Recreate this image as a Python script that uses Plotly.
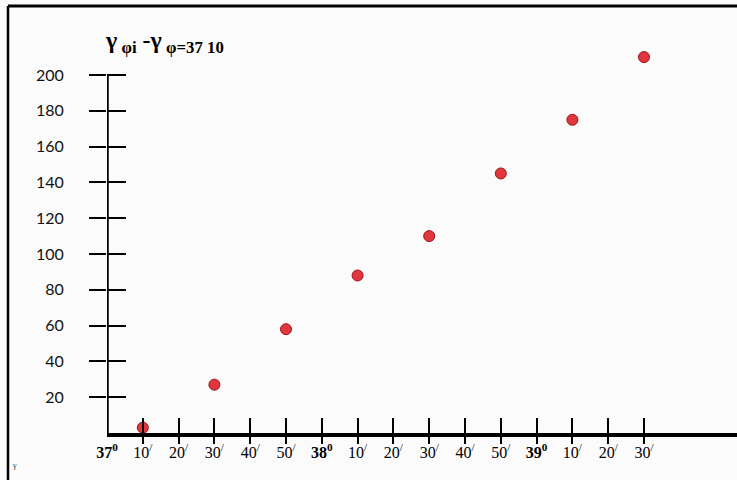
import plotly.graph_objects as go

# Data: x = minutes after 37°00', y = γφi − γφ=37°10'
x_minutes = [10, 30, 50, 70, 90, 110, 130, 150]
y_values = [3, 27, 58, 88, 110, 145, 175, 210]

x_tickvals = [0, 10, 20, 30, 40, 50, 60, 70, 80, 90, 100, 110, 120, 130, 140, 150]
x_ticktext = ["<b>37<sup>0</sup></b>", "10<sup>/</sup>", "20<sup>/</sup>", "30<sup>/</sup>",
              "40<sup>/</sup>", "50<sup>/</sup>", "<b>38<sup>0</sup></b>", "10<sup>/</sup>",
              "20<sup>/</sup>", "30<sup>/</sup>", "40<sup>/</sup>", "50<sup>/</sup>",
              "<b>39<sup>0</sup></b>", "10<sup>/</sup>", "20<sup>/</sup>", "30<sup>/</sup>"]
x_tickmarks = x_tickvals[1:]  # no tick mark at the origin
y_tickvals = [20, 40, 60, 80, 100, 120, 140, 160, 180, 200]
y_ticktext = [str(v) for v in y_tickvals]
y_axis_top = 200

W, H = 737, 480
ML, MR, MT, MB = 107, 0, 30, 47
PX_PER_MIN = 3.58
PX_PER_UNIT = 1.79
PW, PH = W - ML - MR, H - MT - MB
x_range = [0, PW / PX_PER_MIN]
y_range = [0, PH / PX_PER_UNIT]

fig = go.Figure()
fig.add_trace(go.Scatter(
    x=x_minutes, y=y_values, mode="markers",
    marker=dict(size=11, color="#e2363f", line=dict(color="#9c1018", width=1)),
    cliponaxis=False, showlegend=False, hoverinfo="x+y"))
# companion traces for overlay axes (tick marks)
for xa in ("x2", "x3"):
    fig.add_trace(go.Scatter(
        x=x_minutes, y=y_values, mode="markers", xaxis=xa, yaxis="y2",
        marker=dict(size=1, opacity=0), showlegend=False, hoverinfo="skip"))

serif = "Liberation Serif"
fig.update_layout(
    width=W, height=H,
    margin=dict(l=ML, r=MR, t=MT, b=MB, pad=0),
    paper_bgcolor="#fbfbfb", plot_bgcolor="rgba(0,0,0,0)",
    xaxis=dict(range=x_range, showgrid=False, zeroline=False,
               showline=True, linecolor="black", linewidth=4,
               ticks="", ticklabelstandoff=2,
               tickvals=x_tickvals, ticktext=x_ticktext,
               tickfont=dict(family=serif, size=16, color="black"),
               fixedrange=True),
    yaxis=dict(range=y_range, showgrid=False, zeroline=False,
               showline=False,
               ticks="outside", ticklen=17, tickwidth=2, tickcolor="black",
               tickvals=y_tickvals, ticktext=y_ticktext,
               ticklabelstandoff=22,
               tickfont=dict(family="Lato", size=16, color="#111"),
               fixedrange=True),
    xaxis2=dict(range=x_range, overlaying="x", anchor="y", side="bottom",
                showgrid=False, zeroline=False, showline=False,
                ticks="inside", ticklen=15, tickwidth=1.5, tickcolor="black",
                tickvals=x_tickmarks, showticklabels=False, fixedrange=True),
    xaxis3=dict(range=x_range, overlaying="x", anchor="y", side="bottom",
                showgrid=False, zeroline=False, showline=False,
                ticks="outside", ticklen=10, tickwidth=1.5, tickcolor="black",
                tickvals=x_tickmarks, showticklabels=False, fixedrange=True),
    yaxis2=dict(range=y_range, overlaying="y", anchor="x", side="left",
                showgrid=False, zeroline=False, showline=False,
                ticks="inside", ticklen=19, tickwidth=2, tickcolor="black",
                tickvals=y_tickvals, showticklabels=False, fixedrange=True),
    showlegend=False,
)

# vertical axis line from 0 up to the top tick
fig.add_shape(type="line", xref="x", yref="y", x0=0, x1=0, y0=0, y1=y_axis_top,
              line=dict(color="black", width=3.5), layer="above")

# scan frame (left and top borders)
fx = -(ML - 8) / PW
fy = 1 + (MT - 6) / PH
fig.add_shape(type="line", xref="paper", yref="paper",
              x0=fx, x1=fx, y0=-MB / PH, y1=fy,
              line=dict(color="black", width=2.5))
fig.add_shape(type="line", xref="paper", yref="paper",
              x0=fx, x1=1, y0=fy, y1=fy,
              line=dict(color="black", width=3))

# title on the y axis
fig.add_annotation(
    xref="paper", yref="paper",
    x=(103 - ML) / PW, y=1 + (MT - 59) / PH,
    xanchor="left", yanchor="bottom", showarrow=False,
    text="<b>γ<sub> φi</sub> -γ<sub> φ=37 10</sub></b>",
    font=dict(family=serif, size=24, color="black"))

# small scan mark at bottom-left
fig.add_annotation(
    xref="paper", yref="paper",
    x=(14 - ML) / PW, y=-(465 - (H - MB)) / PH,
    xanchor="center", yanchor="middle", showarrow=False,
    text="γ", font=dict(family=serif, size=8, color="#333"))

fig.write_html("out.html", config={"displayModeBar": False},
               post_script="document.body.style.margin='0';")
